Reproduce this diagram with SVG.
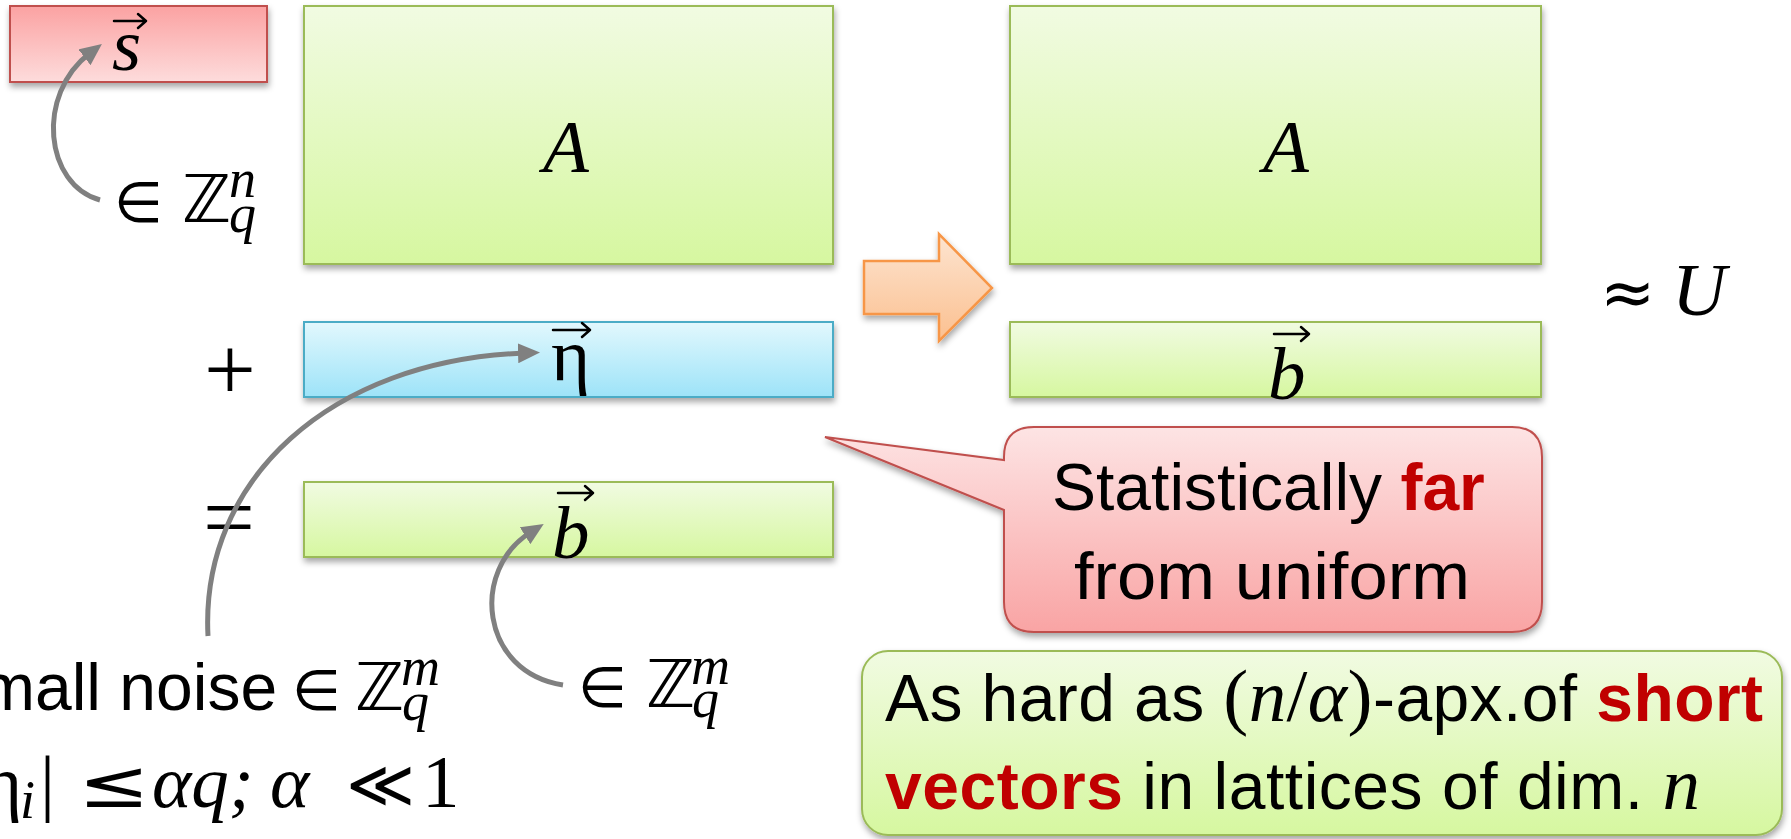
<svg xmlns="http://www.w3.org/2000/svg" width="1791" height="839" viewBox="0 0 1791 839">
<defs>
<linearGradient id="gGreen" x1="0" y1="0" x2="0" y2="1"><stop offset="0" stop-color="#f1fbe2"/><stop offset="1" stop-color="#d6f7a0"/></linearGradient>
<linearGradient id="gBlue" x1="0" y1="0" x2="0" y2="1"><stop offset="0" stop-color="#e2f8fd"/><stop offset="1" stop-color="#9de3f8"/></linearGradient>
<linearGradient id="gRedS" x1="0" y1="0" x2="0" y2="1"><stop offset="0" stop-color="#fba2a2"/><stop offset="1" stop-color="#fddcdc"/></linearGradient>
<linearGradient id="gRedC" x1="0" y1="0" x2="0" y2="1"><stop offset="0" stop-color="#fde4e4"/><stop offset="1" stop-color="#f9a4a4"/></linearGradient>
<linearGradient id="gOrange" x1="0" y1="0" x2="0" y2="1"><stop offset="0" stop-color="#fde4d0"/><stop offset="1" stop-color="#fbc090"/></linearGradient>
<filter id="shadow" x="-10%" y="-10%" width="130%" height="140%"><feDropShadow dx="1" dy="4" stdDeviation="3" flood-color="#000" flood-opacity="0.35"/></filter>
<marker id="ah" markerUnits="userSpaceOnUse" viewBox="0 0 22 20" markerWidth="22" markerHeight="20" refX="7" refY="10" orient="auto"><path d="M0,0 L22,10 L0,20 Z" fill="#808080"/></marker>
</defs>
<style>
.txt{font-family:"Liberation Sans",Arial,sans-serif;font-size:66px;fill:#000}
.mi{font-family:"Liberation Serif","DejaVu Serif",serif;font-style:italic;font-size:75px;fill:#000}
.mr{font-family:"Liberation Serif","DejaVu Serif",serif;font-size:75px;fill:#000}
.op{font-family:"Liberation Serif","DejaVu Serif",serif;font-size:92px;fill:#000}
.sym{font-family:"DejaVu Sans","DejaVu Serif",sans-serif;font-size:66px;fill:#000}
.el{font-family:"DejaVu Sans","DejaVu Serif",sans-serif;font-size:56px;fill:#000}
.scr{font-family:"Liberation Serif","DejaVu Serif",serif;font-style:italic;font-size:54px;fill:#000}
.red{fill:#c00000;font-weight:bold}
.conn{fill:none;stroke:#808080;stroke-width:5;marker-end:url(#ah)}
.vec{fill:none;stroke:#000;stroke-width:2.5;stroke-linecap:round;stroke-linejoin:round}
.gbox{fill:url(#gGreen);stroke:#9bbb59;stroke-width:2;filter:url(#shadow)}
</style>

<g id="node-s">
<rect x="10" y="6" width="257" height="76" fill="url(#gRedS)" stroke="#c0504d" stroke-width="2" filter="url(#shadow)"/>
<text class="mi" x="112" y="70">s</text>
<path class="vec" d="M114,21 H146 M138,14 L146,21 L138,28"/>
</g>

<g id="label-s-domain">
<text class="el" x="114" y="222">∈</text>
<text class="sym" x="182" y="222">ℤ</text>
<text class="scr" x="229" y="197">n</text>
<text class="scr" x="229" y="232">q</text>
</g>

<g id="node-A-left">
<rect class="gbox" x="304" y="6" width="529" height="258"/>
<text class="mi" x="543" y="172">A</text>
</g>

<g id="op-plus"><text class="op" x="230" y="400" text-anchor="middle">+</text></g>

<g id="node-eta">
<rect x="304" y="322" width="529" height="75" fill="url(#gBlue)" stroke="#4bacc6" stroke-width="2" filter="url(#shadow)"/>
<text class="mr" x="551" y="380">η</text>
<path class="vec" d="M553,330 H590 M582,323 L590,330 L582,337"/>
</g>

<g id="op-eq"><text class="op" x="229" y="548" text-anchor="middle">=</text></g>

<g id="node-b-left">
<rect class="gbox" x="304" y="482" width="529" height="75"/>
<text class="mi" x="552" y="558">b</text>
<path class="vec" d="M558,493 H593 M585,486 L593,493 L585,500"/>
</g>

<g id="label-b-domain">
<text class="el" x="578" y="707">∈</text>
<text class="sym" x="646" y="707">ℤ</text>
<text class="scr" x="691" y="684">m</text>
<text class="scr" x="692" y="717">q</text>
</g>

<g id="label-noise">
<text class="txt" x="-64" y="710">Small noise</text>
<text class="el" x="292" y="710">∈</text>
<text class="sym" x="355" y="710">ℤ</text>
<text class="scr" x="401" y="685">m</text>
<text class="scr" x="402" y="720">q</text>
<text class="mr" x="-32" y="807">|η</text>
<text class="scr" x="20" y="818">i</text>
<text class="mr" x="40" y="807">|</text>
<text class="sym" transform="translate(78,807) scale(1.3,1)" x="0" y="0">≤</text>
<text class="mi" x="152" y="807">αq;</text>
<text class="mi" x="270" y="807">α</text>
<text class="sym" x="346" y="807">≪</text>
<text class="mr" x="422" y="807">1</text>
</g>

<g id="node-arrow">
<polygon points="864,261 939,261 939,234 992,288 939,341 939,314 864,314" fill="url(#gOrange)" stroke="#f79646" stroke-width="2.5" filter="url(#shadow)"/>
</g>

<g id="node-A-right">
<rect class="gbox" x="1010" y="6" width="531" height="258"/>
<text class="mi" x="1263" y="172">A</text>
</g>

<g id="node-b-right">
<rect class="gbox" x="1010" y="322" width="531" height="75"/>
<text class="mi" x="1268" y="399">b</text>
<path class="vec" d="M1274,334 H1309 M1301,327 L1309,334 L1301,341"/>
</g>

<g id="label-approx">
<text class="sym" x="1600" y="315">≈</text>
<text class="mi" x="1672" y="315">U</text>
</g>

<g id="callout-far">
<path d="M1034,427 H1512 Q1542,427 1542,457 V602 Q1542,632 1512,632 H1034 Q1004,632 1004,602 V510 L825,437 L1004,460 V457 Q1004,427 1034,427 Z" fill="url(#gRedC)" stroke="#c0504d" stroke-width="2" filter="url(#shadow)"/>
<text class="txt" x="1052" y="510">Statistically <tspan class="red">far</tspan></text>
<text class="txt" x="1074" y="599" textLength="396" lengthAdjust="spacingAndGlyphs">from uniform</text>
</g>

<g id="callout-hard">
<rect x="862" y="651" width="920" height="184" rx="26" ry="26" fill="url(#gGreen)" stroke="#9bbb59" stroke-width="2" filter="url(#shadow)"/>
<text class="txt" x="885" y="721" textLength="878" lengthAdjust="spacing">As hard as <tspan class="mr">(</tspan><tspan class="mi">n</tspan><tspan class="mr">/</tspan><tspan class="mi">α</tspan><tspan class="mr">)</tspan>-apx.of <tspan class="red">short</tspan></text>
<text class="txt" x="885" y="809" textLength="815" lengthAdjust="spacing"><tspan class="red">vectors</tspan> in lattices of dim. <tspan class="mi">n</tspan></text>
</g>

<g id="connectors">
<path class="conn" d="M100,200 C 45,185 35,95 90,53"/>
<path class="conn" d="M208,636 C 200,480 330,360 525,353"/>
<path class="conn" d="M563,685 C 480,672 470,570 531,532"/>
</g>
</svg>
